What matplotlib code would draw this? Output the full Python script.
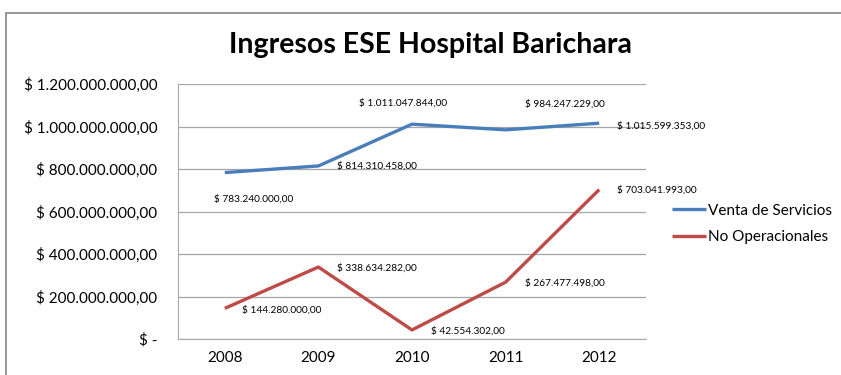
import matplotlib.pyplot as plt
from matplotlib.patches import Rectangle

plt.rcParams['font.family'] = ['Lato', 'DejaVu Sans']

years = ['2008', '2009', '2010', '2011', '2012']
venta_servicios = [783240000.00, 814310458.00, 1011047844.00, 984247229.00, 1015599353.00]
no_operacionales = [144280000.00, 338634282.00, 42554302.00, 267477498.00, 703041993.00]
y_ticks = [0, 200e6, 400e6, 600e6, 800e6, 1000e6, 1200e6]
y_tick_labels = ['$ -', '$ 200.000.000,00', '$ 400.000.000,00', '$ 600.000.000,00',
                 '$ 800.000.000,00', '$ 1.000.000.000,00', '$ 1.200.000.000,00']


def money(v):
    s = f"{v:,.2f}".replace(',', 'X').replace('.', ',').replace('X', '.')
    return '$ ' + s


blue = '#4A7EBB'
red = '#BE4B48'

fig = plt.figure(figsize=(8.41, 3.75), dpi=100)
ax = fig.add_axes([178 / 841, 1 - 339 / 375, 468 / 841, 255 / 375])

x = list(range(len(years)))
ax.plot(x, venta_servicios, color=blue, lw=2.4, label='Venta de Servicios', solid_capstyle='butt')
ax.plot(x, no_operacionales, color=red, lw=2.4, label='No Operacionales', solid_capstyle='butt')

ax.set_xlim(-0.5, 4.5)
ax.set_ylim(0, 1200e6)
ax.set_xticks(x)
ax.set_xticklabels(years, fontsize=11)
ax.set_yticks(y_ticks)
ax.set_yticklabels(y_tick_labels, fontsize=11)
ax.tick_params(axis='y', length=0, pad=15)
ax.tick_params(axis='x', length=0, pad=9)
ax.grid(axis='y', color='#A6A6A6', lw=0.9)
ax.set_axisbelow(True)
for side in ['top', 'right']:
    ax.spines[side].set_visible(False)
ax.spines['left'].set_color('#A6A6A6')
ax.spines['bottom'].set_color('#A6A6A6')

# data label offsets in pixels (dx, dy), alignment
blue_pos = [(-11, -26, 'left'), (19, 0, 'left'), (-9, 21, 'center'), (19, 26, 'left'), (18, -3, 'left')]
red_pos = [(17, -2, 'left'), (19, -1, 'left'), (19, -1, 'left'), (19, -1, 'left'), (18, 0, 'left')]
for i in x:
    dx, dy, ha = blue_pos[i]
    ax.annotate(money(venta_servicios[i]), (i, venta_servicios[i]), xytext=(dx, dy),
                textcoords='offset pixels', fontsize=7.3, ha=ha, va='center')
    dx, dy, ha = red_pos[i]
    ax.annotate(money(no_operacionales[i]), (i, no_operacionales[i]), xytext=(dx, dy),
                textcoords='offset pixels', fontsize=7.3, ha=ha, va='center')

ax.legend(loc='center left', bbox_to_anchor=(672 / 841, 1 - 224 / 375), bbox_transform=fig.transFigure,
          frameon=False, fontsize=11, handlelength=2.2, handletextpad=0.15, labelspacing=0.85,
          borderpad=0, borderaxespad=0)

fig.text(430 / 841, 1 - 45 / 375, 'Ingresos ESE Hospital Barichara', ha='center', va='center',
         fontsize=20.5, fontweight='bold')

fig.patches.append(Rectangle((6 / 841, -0.1), 1.1, 1.1 - 13 / 375, transform=fig.transFigure,
                             fill=False, edgecolor='#868686', lw=1.2))

fig.savefig('out.png', dpi=100)
